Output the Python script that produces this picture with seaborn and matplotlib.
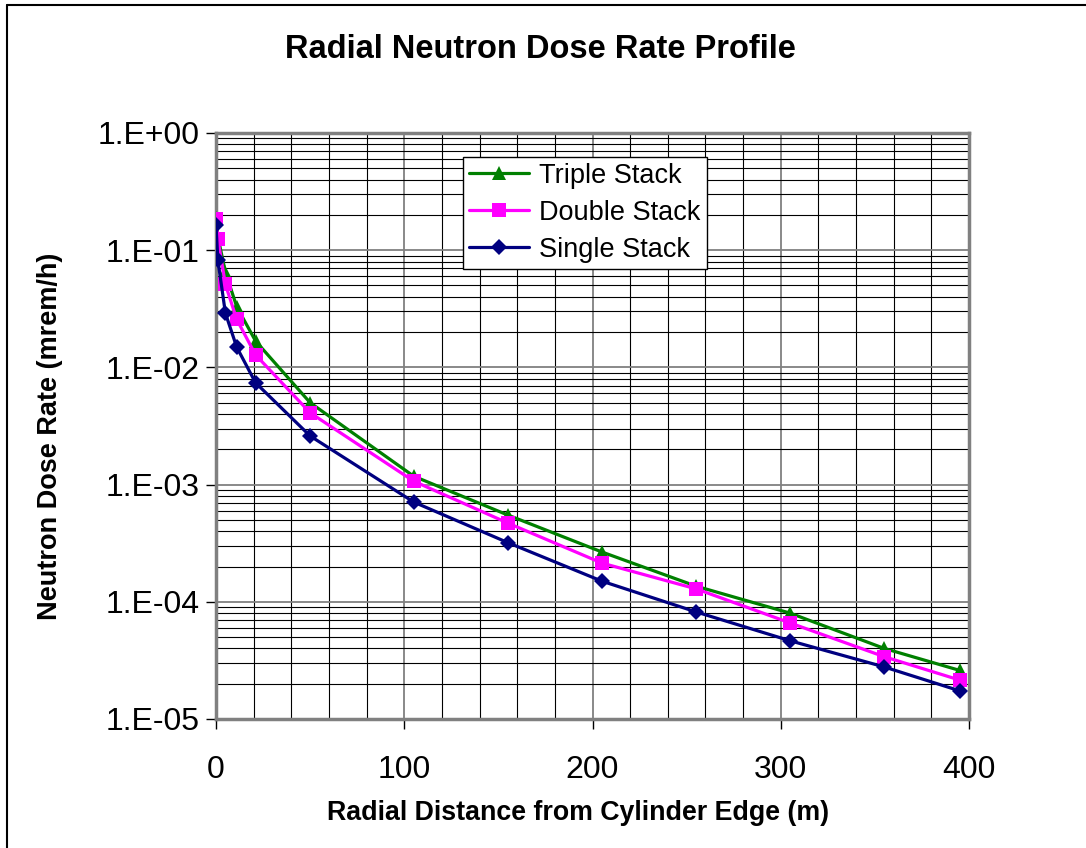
import numpy as np
import pandas as pd
import seaborn as sns
import matplotlib
matplotlib.use("Agg")
import matplotlib.pyplot as plt
from matplotlib.ticker import LogLocator, MultipleLocator, FuncFormatter, NullFormatter
from matplotlib.lines import Line2D

# values
distance = [0, 1, 5, 11, 21, 50, 105, 155, 205, 255, 305, 355, 395]
triple_stack = [0.19, 0.13, 0.065, 0.033, 0.0168, 0.0050, 0.00118, 0.00055,
                0.000266, 0.000136, 0.000080, 0.000040, 0.000026]
double_stack = [0.185, 0.124, 0.051, 0.0257, 0.0128, 0.0041, 0.00107, 0.00047,
                0.000214, 0.000129, 0.000066, 0.000034, 0.0000215]
single_stack = [0.164, 0.082, 0.029, 0.0149, 0.0074, 0.0026, 0.00071, 0.00032,
                0.000150, 0.000082, 0.0000465, 0.0000278, 0.0000174]

series_names = ["Triple Stack", "Double Stack", "Single Stack"]
colors = {"Triple Stack": "#008000", "Double Stack": "#FF00FF", "Single Stack": "#000080"}
markers = {"Triple Stack": "^", "Double Stack": "s", "Single Stack": "D"}
msizes = {"Triple Stack": 10.5, "Double Stack": 10, "Single Stack": 8.5}

df = pd.DataFrame({
    "Distance": distance * 3,
    "Dose": triple_stack + double_stack + single_stack,
    "Series": np.repeat(series_names, len(distance)),
})

sns.set_style("white")
plt.rcParams['font.family'] = ['Liberation Sans', 'DejaVu Sans']
plt.rcParams['text.color'] = 'black'
plt.rcParams['axes.labelcolor'] = 'black'
plt.rcParams['xtick.color'] = 'black'
plt.rcParams['ytick.color'] = 'black'

fig = plt.figure(figsize=(10.86, 8.48), dpi=100)
ax = fig.add_axes([216 / 1086, 1 - 719 / 848, (969 - 216) / 1086, (719 - 133) / 848])

for name in series_names:
    sub = df[df["Series"] == name]
    sns.lineplot(data=sub, x="Distance", y="Dose", ax=ax, color=colors[name],
                 marker=markers[name], markersize=msizes[name], markeredgewidth=0,
                 linewidth=2.3, label=name, legend=False, zorder=3)

ax.set_yscale("log")
ax.set_xlim(0, 400)
ax.set_ylim(1e-5, 1)

ax.yaxis.set_major_locator(LogLocator(base=10, numticks=10))
ax.yaxis.set_minor_locator(LogLocator(base=10, subs=np.arange(2, 10), numticks=50))
ax.yaxis.set_minor_formatter(NullFormatter())
ax.yaxis.set_major_formatter(FuncFormatter(lambda v, p: "1.E{:+03d}".format(int(round(np.log10(v))))))
ax.xaxis.set_major_locator(MultipleLocator(100))
ax.xaxis.set_minor_locator(MultipleLocator(20))

ax.grid(which="major", axis="both", color="#808080", linewidth=1.3)
ax.grid(which="minor", axis="both", color="black", linewidth=0.8)
ax.set_axisbelow(True)

for sp in ax.spines.values():
    sp.set_color("#808080")
    sp.set_linewidth(2.5)
    sp.set_visible(True)

ax.tick_params(which="major", direction="out", length=7, width=1, color="black",
               labelsize=23, left=True, bottom=True)
ax.tick_params(axis="x", which="major", pad=19)
ax.tick_params(axis="y", which="major", pad=5)
ax.tick_params(which="minor", length=0)

ax.set_xlabel("Radial Distance from Cylinder Edge (m)", fontsize=19.3, fontweight="bold", va="center")
ax.xaxis.set_label_coords((578 - 216) / 753, (719 - 813) / 586)
ax.set_ylabel("Neutron Dose Rate (mrem/h)", fontsize=19.5, fontweight="bold", va="center")
ax.yaxis.set_label_coords((50 - 216) / 753, (719 - 436) / 586)
fig.text(540 / 1086, 1 - 50 / 848, "Radial Neutron Dose Rate Profile", ha="center", va="center",
         fontsize=23.5, fontweight="bold")

handles = [Line2D([], [], color=colors[n], marker=markers[n], markersize=msizes[n],
                  markeredgewidth=0, linewidth=2.3) for n in series_names]
leg = ax.legend(handles, series_names, loc="upper left",
                bbox_to_anchor=((463 - 216) / 753, (719 - 157) / 586),
                fontsize=19.5, frameon=True, fancybox=False, framealpha=1,
                edgecolor="black", borderpad=0.22, labelspacing=0.4,
                handlelength=2.2, handletextpad=0.4, borderaxespad=0)
leg.get_frame().set_linewidth(1)

# partial outer border (left and top edges of the chart area)
fig.add_artist(Line2D([7 / 1086, 7 / 1086], [0, 1 - 5 / 848], transform=fig.transFigure,
                      color="black", linewidth=1.5))
fig.add_artist(Line2D([7 / 1086, 1], [1 - 5 / 848, 1 - 5 / 848], transform=fig.transFigure,
                      color="black", linewidth=1.5))

fig.savefig("out.png", dpi=100)
